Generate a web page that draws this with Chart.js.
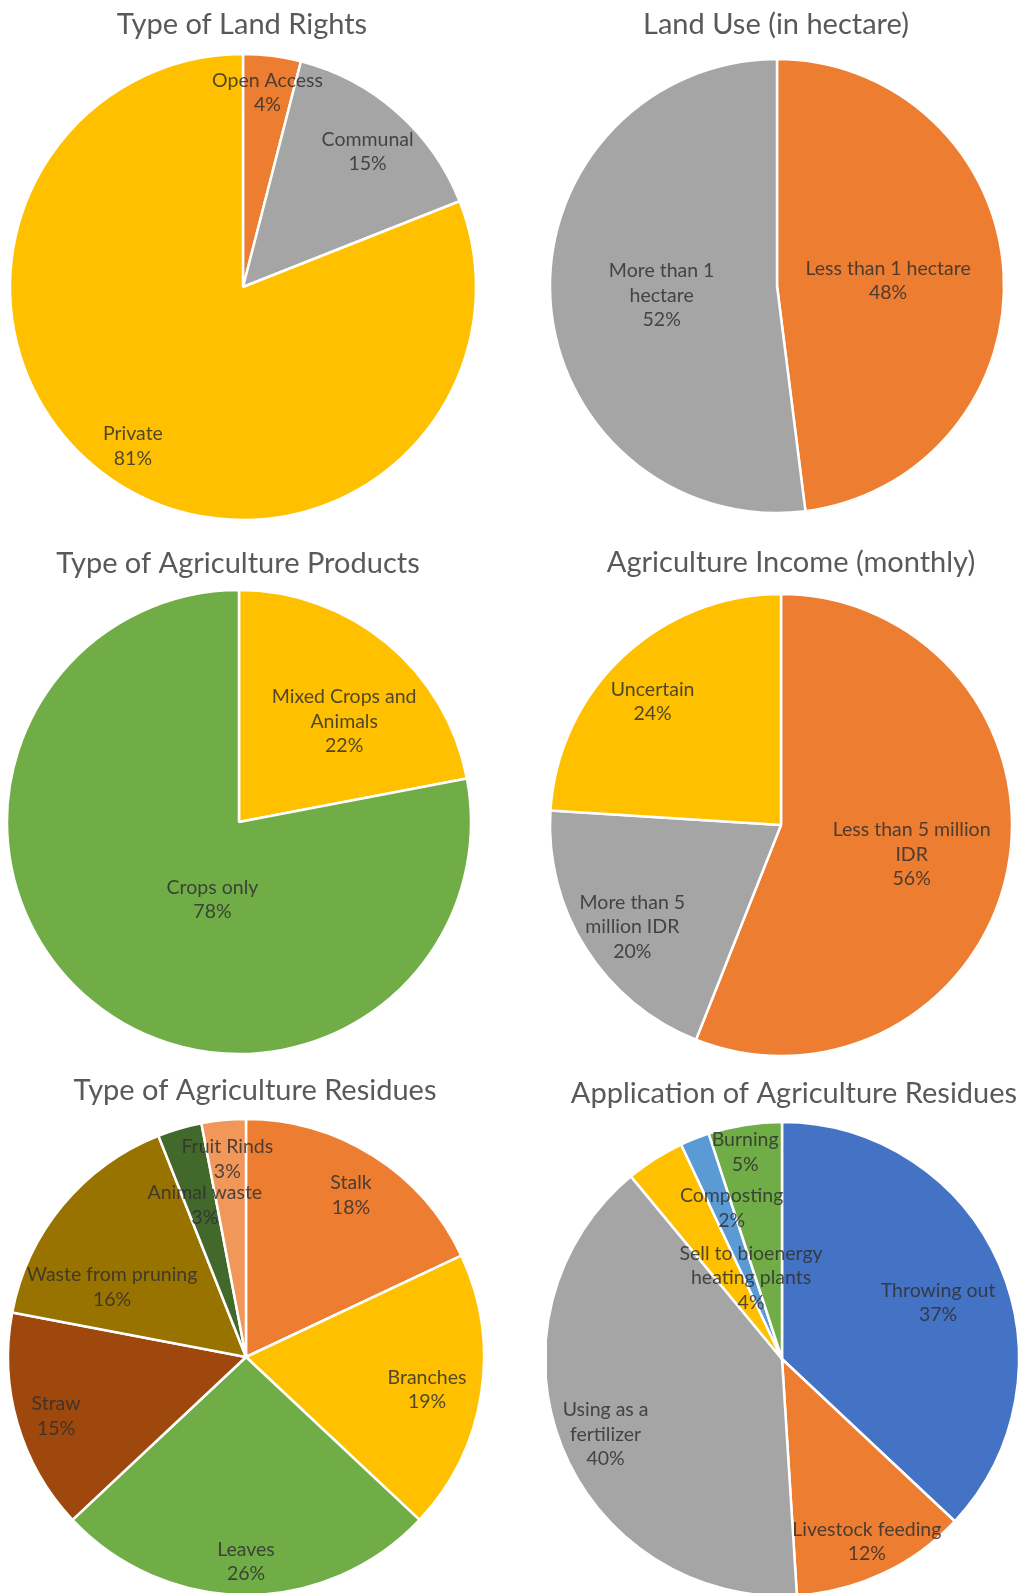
<!DOCTYPE html>
<html>
<head>
<meta charset="utf-8">
<script src="https://cdn.jsdelivr.net/npm/chart.js@4.4.1/dist/chart.umd.min.js"></script>
<style>
html,body{margin:0;padding:0;background:#ffffff;overflow:hidden;width:1021px;height:1593px;}
.box{position:absolute;}
</style>
</head>
<body>
<div class="box" id="b1"><canvas id="c1"></canvas></div>
<div class="box" id="b2"><canvas id="c2"></canvas></div>
<div class="box" id="b3"><canvas id="c3"></canvas></div>
<div class="box" id="b4"><canvas id="c4"></canvas></div>
<div class="box" id="b5"><canvas id="c5"></canvas></div>
<div class="box" id="b6"><canvas id="c6"></canvas></div>
<script>
// ---------------- DATA ----------------
const landRightsLabels = ['Open Access', 'Communal', 'Private'];
const landRightsValues = [4, 15, 81];

const landUseLabels = ['Less than 1 hectare', 'More than 1 hectare'];
const landUseValues = [48, 52];

const productLabels = ['Mixed Crops and Animals', 'Crops only'];
const productValues = [22, 78];

const incomeLabels = ['Less than 5 million IDR', 'More than 5 million IDR', 'Uncertain'];
const incomeValues = [56, 20, 24];

const residueLabels = ['Stalk', 'Branches', 'Leaves', 'Straw', 'Waste from pruning', 'Animal waste', 'Fruit Rinds'];
const residueValues = [18, 19, 26, 15, 16, 3, 3];

const applicationLabels = ['Throwing out', 'Livestock feeding', 'Using as a fertilizer', 'Sell to bioenergy heating plants', 'Composting', 'Burning'];
const applicationValues = [37, 12, 40, 4, 2, 5];

// ---------------- STYLE ----------------
const FONT = "Lato, 'Open Sans', sans-serif";
const TITLE_SIZE = 29;
const LABEL_SIZE = 19.5;
const LABEL_LINE = 24.5;
const TITLE_COLOR = '#595959';
const LABEL_COLOR = 'rgba(48,48,48,0.84)';
const BW = 2.5;

const C = {
  blue: '#4472C4', orange: '#ED7D31', gray: '#A5A5A5', yellow: '#FFC000',
  lightBlue: '#5B9BD5', green: '#70AD47', brown: '#9E480E', olive: '#997300',
  darkGreen: '#43682B', lightOrange: '#F1975A'
};

// place: [angle offset from slice middle (deg), distance as fraction of radius]
const specs = [
  { id: 'c1', box: 'b1', title: 'Type of Land Rights', labels: landRightsLabels, values: landRightsValues,
    colors: [C.orange, C.gray, C.yellow],
    pos: { left: 0, top: 0, width: 484, height: 530 }, titleY: 25, pie: { cx: 243, cy: 287, r: 233 },
    place: [[0, 0.84], [1.2, 0.79], [0.5, 0.83]], wrap: [null, null, null] },
  { id: 'c2', box: 'b2', title: 'Land Use (in hectare)', labels: landUseLabels, values: landUseValues,
    colors: [C.orange, C.gray],
    pos: { left: 531, top: 0, width: 490, height: 530 }, titleY: 25, pie: { cx: 777, cy: 286, r: 227 },
    place: [[0.8, 0.49], [-1.2, 0.51]], wrap: [null, [3, 1]] },
  { id: 'c3', box: 'b3', title: 'Type of Agriculture Products', labels: productLabels, values: productValues,
    colors: [C.yellow, C.green],
    pos: { left: 0, top: 530, width: 476, height: 530 }, titleY: 564, pie: { cx: 239, cy: 822, r: 232 },
    place: [[6.7, 0.627], [-20.8, 0.355]], wrap: [[3, 1], null] },
  { id: 'c4', box: 'b4', title: 'Agriculture Income (monthly)', labels: incomeLabels, values: incomeValues,
    colors: [C.orange, C.gray, C.yellow],
    pos: { left: 541, top: 530, width: 500, height: 530 }, titleY: 563, pie: { cx: 781, cy: 825, r: 231 },
    place: [[2, 0.58], [-2, 0.78], [-3, 0.77]], wrap: [[4, 1], [3, 2], null] },
  { id: 'c5', box: 'b5', title: 'Type of Agriculture Residues', labels: residueLabels, values: residueValues,
    colors: [C.orange, C.yellow, C.green, C.brown, C.olive, C.darkGreen, C.lightOrange],
    pos: { left: 0, top: 1050, width: 510, height: 543 }, titleY: 1091, pie: { cx: 246, cy: 1357, r: 238 },
    place: [[0.6, 0.81], [1.3, 0.773], [0, 0.86], [-1.1, 0.836], [-12, 0.635], [1, 0.66], [0, 0.835]],
    wrap: [null, null, null, null, null, null, null] },
  { id: 'c6', box: 'b6', title: 'Application of Agriculture Residues', labels: applicationLabels, values: applicationValues,
    colors: [C.blue, C.orange, C.gray, C.yellow, C.lightBlue, C.green],
    pos: { left: 547, top: 1050, width: 494, height: 543 }, titleY: 1094, pie: { cx: 782, cy: 1359, r: 237 },
    place: [[3.6, 0.70], [0.3, 0.85], [-1.6, 0.81], [11.5, 0.366], [3.1, 0.67], [-1.1, 0.887]],
    wrap: [null, null, [3, 1], [3, 2], null, null] }
];

// ---------------- PLUGINS ----------------
const placePie = {
  id: 'placePie',
  afterLayout(chart, args, o) {
    const r = o.r + o.bw / 2;
    chart.chartArea = { left: o.cx - r, right: o.cx + r, top: o.cy - r, bottom: o.cy + r, width: 2 * r, height: 2 * r };
  }
};

const sliceLabels = {
  id: 'sliceLabels',
  afterDatasetsDraw(chart, args, o) {
    const ctx = chart.ctx;
    const meta = chart.getDatasetMeta(0);
    const ds = chart.data.datasets[0];
    const total = ds.data.reduce((a, b) => a + b, 0);
    ctx.save();
    ctx.font = o.size + 'px ' + o.family;
    ctx.fillStyle = o.color;
    ctx.textAlign = 'center';
    ctx.textBaseline = 'middle';
    meta.data.forEach((arc, i) => {
      const p = arc.getProps(['x', 'y', 'startAngle', 'endAngle', 'outerRadius'], true);
      const pl = o.place[i];
      const a = (p.startAngle + p.endAngle) / 2 + pl[0] * Math.PI / 180;
      const x = p.x + Math.cos(a) * p.outerRadius * pl[1];
      const y = p.y + Math.sin(a) * p.outerRadius * pl[1];
      const name = chart.data.labels[i];
      const lines = [];
      const w = o.wrap[i];
      if (w) {
        const words = name.split(' ');
        let k = 0;
        w.forEach(n => { lines.push(words.slice(k, k + n).join(' ')); k += n; });
      } else {
        lines.push(name);
      }
      lines.push(Math.round(ds.data[i] / total * 100) + '%');
      const y0 = y - (lines.length - 1) * o.lineH / 2;
      lines.forEach((t, j) => ctx.fillText(t, x, y0 + j * o.lineH));
    });
    ctx.restore();
  }
};

// ---------------- CHARTS ----------------
specs.forEach(s => {
  const b = document.getElementById(s.box);
  b.style.left = s.pos.left + 'px';
  b.style.top = s.pos.top + 'px';
  b.style.width = s.pos.width + 'px';
  b.style.height = s.pos.height + 'px';
  new Chart(document.getElementById(s.id), {
    type: 'pie',
    data: {
      labels: s.labels,
      datasets: [{ data: s.values, backgroundColor: s.colors, borderColor: '#ffffff', borderWidth: BW, clip: false }]
    },
    options: {
      responsive: true,
      maintainAspectRatio: false,
      animation: false,
      layout: { padding: 0 },
      events: [],
      plugins: {
        legend: { display: false },
        tooltip: { enabled: false },
        title: {
          display: true, text: s.title, color: TITLE_COLOR,
          font: { family: FONT, size: TITLE_SIZE, weight: 'normal', lineHeight: 1.2 },
          padding: { top: s.titleY - s.pos.top - TITLE_SIZE * 0.6, bottom: 0 }
        },
        placePie: { cx: s.pie.cx - s.pos.left, cy: s.pie.cy - s.pos.top, r: s.pie.r, bw: BW },
        sliceLabels: { place: s.place, wrap: s.wrap, size: LABEL_SIZE, family: FONT, color: LABEL_COLOR, lineH: LABEL_LINE }
      }
    },
    plugins: [placePie, sliceLabels]
  });
});
</script>
</body>
</html>
